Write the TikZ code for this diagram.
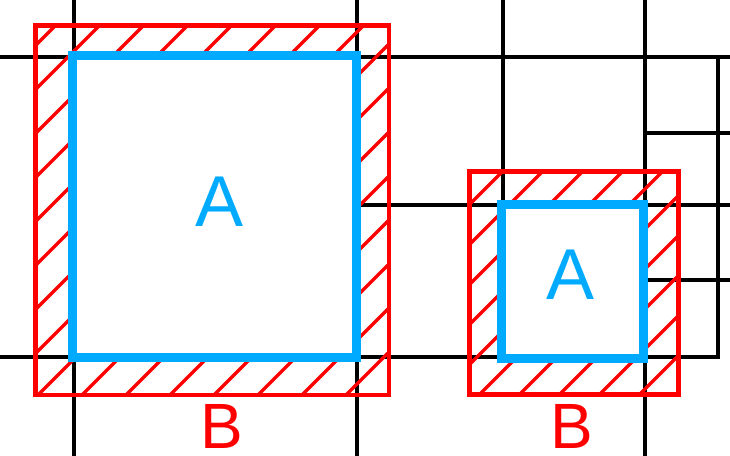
\documentclass[tikz,border=0pt]{standalone}
\usepackage{fontspec}
\setmainfont{Liberation Sans}
\usepackage{tikz}
\usetikzlibrary{positioning}
\definecolor{boxred}{RGB}{255,0,0}
\definecolor{boxblue}{RGB}{0,170,255}

\begin{document}
\begin{tikzpicture}[
        x=1pt, y=-1pt,
        gridline/.style={
            draw=black,
            line width=4pt,
            line cap=rect
        },
        outerbox/.style={
            draw=boxred,
            line width=4.5pt
        },
        innerbox/.style={
            draw=boxblue,
            fill=white,
            line width=9pt
        },
        hatchline/.style={
            draw=boxred,
            line width=3.5pt
        },
        letterA/.style={
            text=boxblue,
            font=\fontsize{72}{72}\selectfont,
            inner sep=0pt,
            text depth=0pt,
            anchor=base
        },
        letterB/.style={
            text=boxred,
            font=\fontsize{64}{64}\selectfont,
            inner sep=0pt,
            text depth=0pt,
            anchor=base
        }
    ]
        \useasboundingbox (0,0) rectangle (730,455);
        \fill[white] (0,0) rectangle (730,455);

        \coordinate (bigNW) at (35.5,25.5);
        \coordinate (bigSE) at (389,395);
        \coordinate (bigInNW) at (72.5,55);
        \coordinate (bigInSE) at (356.5,357.5);
        \coordinate (smallNW) at (469.5,171.5);
        \coordinate (smallSE) at (678.5,394.5);
        \coordinate (smallInNW) at (501,204);
        \coordinate (smallInSE) at (643,358);

        \draw[gridline] (74,0) -- (74,455);
        \draw[gridline] (357,0) -- (357,455);
        \draw[gridline] (503,0) -- (503,205);
        \draw[gridline] (645,0) -- (645,455);
        \draw[gridline] (718,57) -- (718,357);
        \draw[gridline] (0,57) -- (730,57);
        \draw[gridline] (0,357) -- (718,357);
        \draw[gridline] (357,205) -- (730,205);
        \draw[gridline] (645,133) -- (730,133);
        \draw[gridline] (645,280) -- (730,280);

        \begin{scope}
            \clip (bigNW) rectangle (bigSE);
            \foreach \hx in {81,125,...,785}
                \draw[hatchline] (\hx,0) -- ++(-455,455);
        \end{scope}
        \begin{scope}
            \clip (smallNW) rectangle (smallSE);
            \foreach \hx in {674,714,...,1074}
                \draw[hatchline] (\hx,0) -- ++(-455,455);
        \end{scope}

        \draw[outerbox] (bigNW) rectangle (bigSE);
        \draw[outerbox] (smallNW) rectangle (smallSE);
        \draw[innerbox] (bigInNW) rectangle (bigInSE);
        \draw[innerbox] (smallInNW) rectangle (smallInSE);

        \node[letterA] (bigA) at (220,226) {A};
        \node[letterA] (smallA) at (571,299) {A};
        \node[letterB] (bigB) at (222,448) {B};
        \node[letterB] (smallB) at (572,448) {B};
    \end{tikzpicture}
\end{document}
